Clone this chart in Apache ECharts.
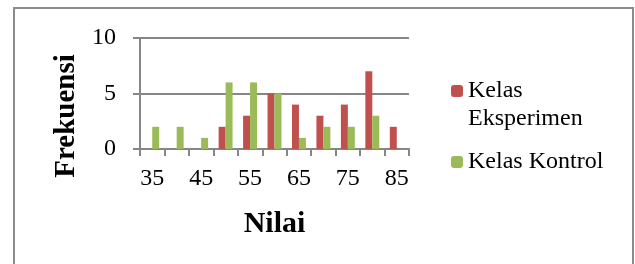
<!DOCTYPE html>
<html>
<head>
<meta charset="utf-8">
<script src="https://cdn.jsdelivr.net/npm/echarts@6/dist/echarts.min.js"></script>
<style>
  html, body { margin: 0; padding: 0; background: #fff; }
  #chart { width: 635px; height: 264px; }
</style>
</head>
<body>
<div id="chart"></div>
<script>
const categories = ["35", "40", "45", "50", "55", "60", "65", "70", "75", "80", "85"];
const eksperimen = [0, 0, 0, 2, 3, 5, 4, 3, 4, 7, 2];
const kontrol = [2, 2, 1, 6, 6, 5, 1, 2, 2, 3, 0];

const font = "Liberation Serif";
const red = "#c0504d";
const green = "#9bbb59";
const axisGray = "#868686";

const chart = echarts.init(document.getElementById("chart"));

chart.setOption({
  backgroundColor: "#fff",
  animation: false,
  textStyle: { fontFamily: font },
  graphic: [
    {
      type: "rect",
      shape: { x: 14, y: 8, width: 619, height: 270 },
      style: { fill: "none", stroke: "#8c8c8c", lineWidth: 2 }
    },
    {
      type: "text",
      x: 67,
      y: 116,
      rotation: Math.PI / 2,
      style: {
        text: "Frekuensi",
        font: "bold 29px " + font,
        fill: "#000",
        align: "center",
        verticalAlign: "middle"
      }
    }
  ],
  grid: { left: 140, right: 226, top: 38, bottom: 115 },
  legend: [
    {
      // blank first line so "Kelas" sits level with the icon
      data: ["Kelas Eksperimen"],
      orient: "vertical",
      left: 451,
      top: 49,
      padding: 0,
      itemWidth: 12,
      itemHeight: 12,
      itemGap: 6,
      formatter: () => "\u00a0\nKelas\nEksperimen",
      textStyle: { fontFamily: font, fontSize: 24, color: "#000", lineHeight: 28 }
    },
    {
      data: ["Kelas Kontrol"],
      orient: "vertical",
      left: 451,
      top: 148,
      padding: 0,
      itemWidth: 12,
      itemHeight: 12,
      itemGap: 6,
      textStyle: { fontFamily: font, fontSize: 24, color: "#000", lineHeight: 28 }
    }
  ],
  xAxis: {
    type: "category",
    data: categories,
    boundaryGap: true,
    name: "Nilai",
    nameLocation: "middle",
    nameGap: 60,
    nameTextStyle: { fontFamily: font, fontSize: 30, fontWeight: "bold", color: "#000" },
    axisLine: { lineStyle: { color: axisGray, width: 2 } },
    axisTick: { show: true, interval: 0, length: 7, lineStyle: { color: axisGray, width: 2 } },
    axisLabel: { interval: 1, margin: 18, fontFamily: font, fontSize: 24, color: "#000" },
    splitLine: { show: false }
  },
  yAxis: {
    type: "value",
    min: 0,
    max: 10,
    interval: 5,
    axisLine: { show: true, lineStyle: { color: axisGray, width: 2 } },
    axisTick: { show: true, length: 7, lineStyle: { color: axisGray, width: 2 } },
    axisLabel: { margin: 24, fontFamily: font, fontSize: 24, color: "#000" },
    splitLine: { show: true, lineStyle: { color: axisGray, width: 2 } }
  },
  series: [
    {
      name: "Kelas Eksperimen",
      type: "bar",
      data: eksperimen,
      barGap: "0%",
      barCategoryGap: "43%",
      itemStyle: { color: red }
    },
    {
      name: "Kelas Kontrol",
      type: "bar",
      data: kontrol,
      barGap: "0%",
      barCategoryGap: "43%",
      itemStyle: { color: green }
    }
  ]
});
</script>
</body>
</html>
